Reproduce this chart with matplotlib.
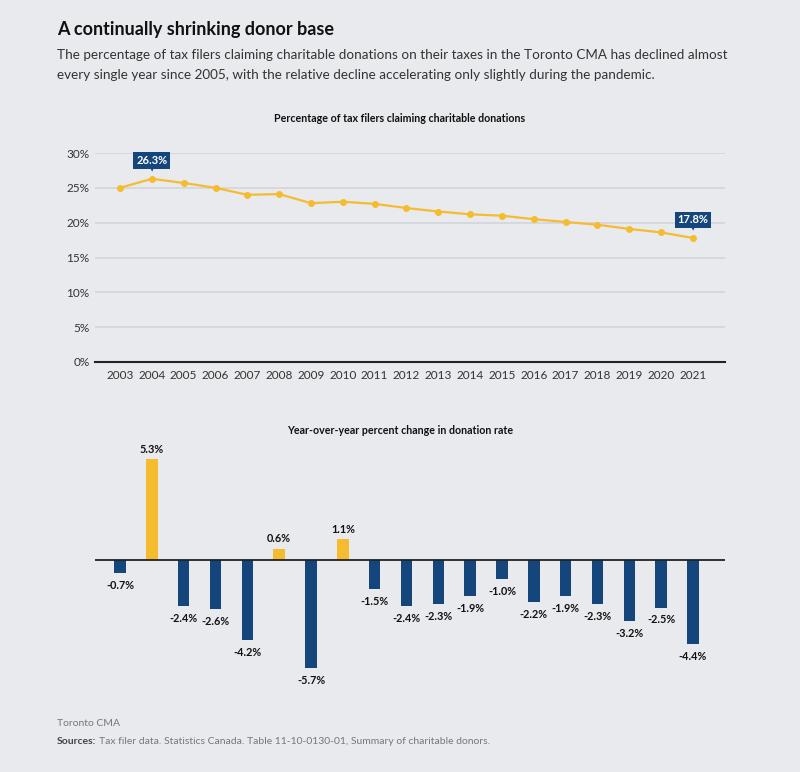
import numpy as np
import matplotlib.pyplot as plt

plt.rcParams['font.family'] = ['Lato', 'DejaVu Sans']

years = np.arange(2003, 2022)
rate = [25.0, 26.3, 25.7, 25.0, 24.0, 24.1, 22.8, 23.0, 22.7, 22.1,
        21.6, 21.2, 21.0, 20.5, 20.1, 19.7, 19.1, 18.6, 17.8]
change = [-0.7, 5.3, -2.4, -2.6, -4.2, 0.6, -5.7, 1.1, -1.5, -2.4,
          -2.3, -1.9, -1.0, -2.2, -1.9, -2.3, -3.2, -2.5, -4.4]
yticks = [0, 5, 10, 15, 20, 25, 30]

bg = '#e9eaee'
yellow = '#f5bc2f'
navy = '#14467c'
W, H = 800, 772

fig = plt.figure(figsize=(W / 100, H / 100), dpi=100, facecolor=bg)

def box(l, t, r, b):
    return [l / W, 1 - b / H, (r - l) / W, (b - t) / H]

xlim = (2003 - 25 / 31.83, 2021 + 32 / 31.83)

# top: line chart
ax1 = fig.add_axes(box(95, 153, 725, 362))
ax1.set_facecolor(bg)
ax1.plot(years, rate, color=yellow, lw=1.6, marker='o', ms=4, zorder=3)
ax1.set_xlim(*xlim)
ax1.set_ylim(0, 30)
ax1.set_yticks(yticks)
ax1.set_yticklabels([f"{v}%" for v in yticks])
ax1.set_xticks(years)
ax1.set_xticklabels([str(y) for y in years])
ax1.grid(axis='y', color='#d3d5da', lw=1.2)
ax1.set_axisbelow(True)
for s in ['top', 'right', 'left']:
    ax1.spines[s].set_visible(False)
ax1.spines['bottom'].set_color('#222222')
ax1.spines['bottom'].set_linewidth(1.5)
ax1.tick_params(length=0, labelsize=8.5, colors='#333333', pad=6)
ax1.tick_params(axis='y', pad=4)

for i in [1, len(years) - 1]:
    ax1.annotate(f"{rate[i]}%", (years[i], rate[i]), xytext=(0, 13),
                 textcoords='offset points', ha='center', va='center',
                 color='white', fontsize=8, fontweight='bold',
                 bbox=dict(boxstyle='square,pad=0.25', fc=navy, ec='none'))
    ax1.annotate("▼", (years[i], rate[i]), xytext=(0, 6.5),
                 textcoords='offset points', ha='center', va='center',
                 color=navy, fontsize=4, family='DejaVu Sans')

fig.text(400 / W, 1 - 118 / H, "Percentage of tax filers claiming charitable donations",
         ha='center', va='center', fontsize=7.7, fontweight='bold', color='#111111')

# bottom: bar chart
ax2 = fig.add_axes(box(95, 440, 725, 690))
ax2.set_facecolor(bg)
cols = [yellow if v > 0 else navy for v in change]
ax2.bar(years, change, width=0.36, color=cols)
ax2.axhline(0, color='#222222', lw=1.3)
ax2.set_xlim(*xlim)
ax2.set_ylim(-6.84, 6.32)
ax2.axis('off')
for x, v in zip(years, change):
    off = 3 if v > 0 else -5
    ax2.annotate(f"{v}%", (x, v), xytext=(0, off), textcoords='offset points',
                 ha='center', va='bottom' if v > 0 else 'top',
                 fontsize=7.8, fontweight='bold', color='#111111')

fig.text(400 / W, 1 - 431 / H, "Year-over-year percent change in donation rate",
         ha='center', va='center', fontsize=7.7, fontweight='bold', color='#111111')

# titles and notes
fig.text(57 / W, 1 - 30 / H, "A continually shrinking donor base",
         ha='left', va='center', fontsize=13, fontweight='bold', color='#111111')
fig.text(57 / W, 1 - 55 / H,
         "The percentage of tax filers claiming charitable donations on their taxes in the Toronto CMA has declined almost",
         ha='left', va='center', fontsize=9.7, color='#333333')
fig.text(57 / W, 1 - 75 / H,
         "every single year since 2005, with the relative decline accelerating only slightly during the pandemic.",
         ha='left', va='center', fontsize=9.7, color='#333333')
fig.text(57 / W, 1 - 723 / H, "Toronto CMA", ha='left', va='center',
         fontsize=7.5, color='#777777')
t = fig.text(57 / W, 1 - 742 / H, "Sources:", ha='left', va='center',
             fontsize=7.5, fontweight='bold', color='#444444')
fig.canvas.draw()
bb = t.get_window_extent()
fig.text((bb.x1 + 3) / W, 1 - 742 / H,
         "Tax filer data. Statistics Canada. Table 11-10-0130-01, Summary of charitable donors.",
         ha='left', va='center', fontsize=7.5, color='#777777')

fig.savefig('out.png', dpi=100, facecolor=bg)
